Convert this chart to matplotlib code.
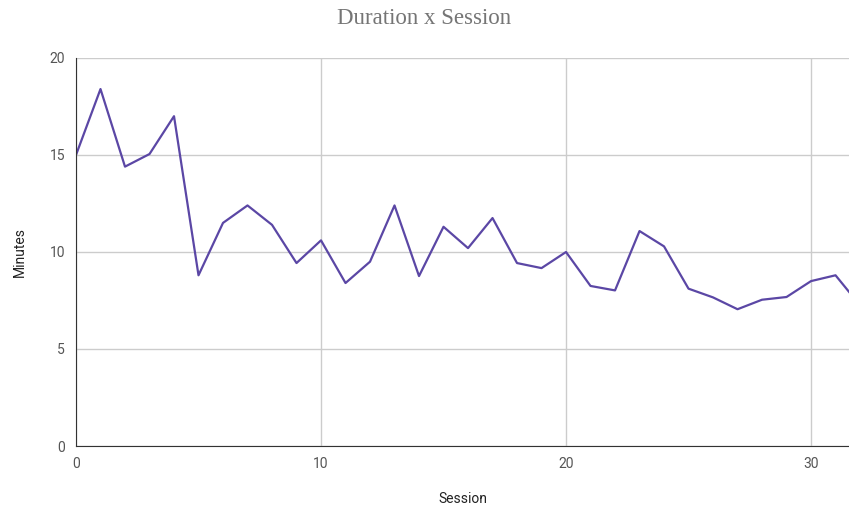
import matplotlib.pyplot as plt

# Minutes per session
sessions = list(range(33))
minutes = [15.0, 18.4, 14.4, 15.05, 17.0, 8.8, 11.5, 12.4, 11.4, 9.43,
           10.6, 8.4, 9.5, 12.4, 8.76, 11.3, 10.2, 11.75, 9.43, 9.17,
           10.0, 8.25, 8.02, 11.08, 10.29, 8.11, 7.66, 7.05, 7.54, 7.68,
           8.5, 8.8, 7.25]

x_ticks = [0, 10, 20, 30]
y_ticks = [0, 5, 10, 15, 20]

fig = plt.figure(figsize=(8.49, 5.09), dpi=100)
ax = fig.add_axes([76 / 849, 1 - 446 / 509, 1 - 76 / 849, (446 - 58) / 509])

ax.plot(sessions, minutes, color='#5b47a5', linewidth=1.6, clip_on=True)

ax.set_xlim(0, 31.55)
ax.set_ylim(0, 20)
ax.set_xticks(x_ticks)
ax.set_yticks(y_ticks)

ax.grid(True, color='#cccccc', linewidth=1)
ax.set_axisbelow(True)
for side in ['top', 'right']:
    ax.spines[side].set_visible(False)
ax.spines['left'].set_color('#333333')
ax.spines['bottom'].set_color('#333333')
ax.tick_params(length=0, pad=8, labelsize=10, labelcolor='#555555')
for lbl in ax.get_xticklabels() + ax.get_yticklabels():
    lbl.set_family('Roboto')

ax.set_xlabel('Session', fontsize=10, family='Roboto', color='#222222', labelpad=15)
ax.set_ylabel('Minutes', fontsize=10, family='Roboto', color='#222222', labelpad=16)

fig.text(0.5, 1 - 18 / 509, 'Duration x Session', ha='center', va='center',
         fontsize=16.5, family='Liberation Serif', color='#757575')

fig.savefig('out.png', dpi=100)
